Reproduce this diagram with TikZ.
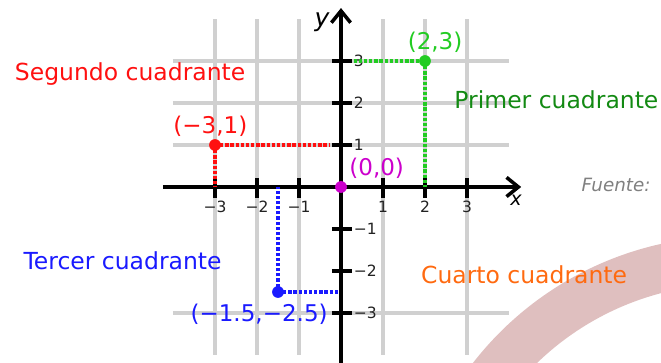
\documentclass[tikz,border=0pt]{standalone}
\usepackage{fontspec}
\setmainfont{DejaVu Sans}
\usetikzlibrary{arrows.meta}
\definecolor{gridgray}{HTML}{D0D0D0}
\definecolor{arcpink}{HTML}{DFBFBF}
\definecolor{qred}{HTML}{FF1010}
\definecolor{qgreen}{HTML}{138A13}
\definecolor{pgreen}{HTML}{22CC22}
\definecolor{qblue}{HTML}{1A1AFF}
\definecolor{qmag}{HTML}{CC00CC}
\definecolor{qorange}{HTML}{FF6A10}
\definecolor{tickgray}{HTML}{222222}
\tikzset{
  gridline/.style={draw=gridgray, line width=2.1pt},
  axisline/.style={draw=black, line width=2.8pt, -{Straight Barb[length=8pt,width=13pt,line width=2.4pt]}},
  tickline/.style={draw=black, line width=2.2pt},
  ticklabel/.style={font=\fontsize{10.5}{12}\selectfont, text=tickgray, inner sep=0pt},
  quadlabel/.style={font=\fontsize{15.9}{18}\selectfont, inner sep=0pt},
  ptlabel/.style={font=\fontsize{15.6}{18}\selectfont, inner sep=0pt},
  ptdot/.style={circle, inner sep=0pt, minimum size=0.28cm},
  guide/.style={line width=2.4pt, dash pattern=on 2.2pt off 1.3pt},
  axname/.style={font=\itshape, inner sep=0pt}
}
\begin{document}
\begin{tikzpicture}[x=1cm,y=1cm]
\useasboundingbox (-8.119,-4.167) rectangle (7.619,4.452);
% pink arc in the background
\begin{scope}
\clip (-8.119,-4.167) rectangle (7.619,4.452);
\coordinate (arcc) at (9.31,-8.98);
\draw[arcpink, line width=1.14cm] (arcc) ++(95:7.24) arc[start angle=95, end angle=152, radius=7.24];
\end{scope}
% grid
\foreach \x in {-3,-2,-1,1,3} \draw[gridline] (\x,-4) -- (\x,4);
\draw[gridline] (2,0) -- (2,4);
\foreach \y in {1,2,3,-3} \draw[gridline] (-4,\y) -- (4,\y);
% axes
\coordinate (xl) at (-4.24,0);
\coordinate (xr) at (4.29,0);
\coordinate (yb) at (0,-4.3);
\coordinate (yt) at (0,4.26);
\draw[axisline] (xl) -- (xr);
\draw[axisline] (yb) -- (yt);
\node[axname, font=\fontsize{17}{20}\selectfont\itshape] (ylab) at (-0.45,3.93) {y};
\node[axname, font=\fontsize{13}{15}\selectfont\itshape] (xlab) at (4.17,-0.31) {x};
% ticks
\foreach \x/\t in {-3/−3,-2/−2,-1/−1,1/1,2/2,3/3} {
  \draw[tickline] (\x,0.21) -- (\x,-0.26);
  \node[ticklabel] (xt\x) at (\x,-0.48) {\t};
}
\foreach \y/\t in {-3/−3,-2/−2,-1/−1,1/1,2/2,3/3} {
  \draw[tickline] (-0.22,\y) -- (0.26,\y);
  \node[ticklabel, anchor=west] (yt\y) at (0.30,\y) {\t};
}
% points and guides
\node[ptdot, fill=pgreen] (P1) at (2,3) {};
\coordinate (P1x) at (2,0);
\coordinate (P1y) at (0.3,3);
\draw[guide, pgreen] (P1y) -- (P1.center);
\draw[guide, pgreen] (P1.center) -- (P1x);
\node[ptlabel, text=pgreen] (L1) at (2.24,3.45) {(2,3)};

\node[ptdot, fill=qred] (P2) at (-3,1) {};
\coordinate (P2x) at (-3,0);
\coordinate (P2y) at (-0.25,1);
\draw[guide, qred] (P2.center) -- (P2y);
\draw[guide, qred] (P2.center) -- (P2x);
\node[ptlabel, text=qred] (L2) at (-3.11,1.45) {(−3,1)};

\node[ptdot, fill=qblue] (P3) at (-1.5,-2.5) {};
\coordinate (P3x) at (-1.5,0);
\coordinate (P3y) at (-0.08,-2.5);
\draw[guide, qblue] (P3.center) -- (P3x);
\draw[guide, qblue] (P3.center) -- (P3y);
\node[ptlabel, text=qblue] (L3) at (-1.95,-3.02) {(−1.5,−2.5)};

\node[ptdot, fill=qmag] (P0) at (0,0) {};
\node[ptlabel, text=qmag] (L0) at (0.85,0.45) {(0,0)};
% quadrant labels
\node[quadlabel, text=qred] (Q2) at (-5.02,2.69) {Segundo cuadrante};
\node[quadlabel, text=qgreen] (Q1) at (5.13,2.07) {Primer cuadrante};
\node[quadlabel, text=qblue] (Q3) at (-5.20,-1.76) {Tercer cuadrante};
\node[quadlabel, text=qorange] (Q4) at (4.36,-2.10) {Cuarto cuadrante};
\node[font=\fontsize{12.4}{14}\selectfont\itshape, text=gray, inner sep=0pt] (src) at (6.55,0.05) {Fuente:};
\end{tikzpicture}
\end{document}
